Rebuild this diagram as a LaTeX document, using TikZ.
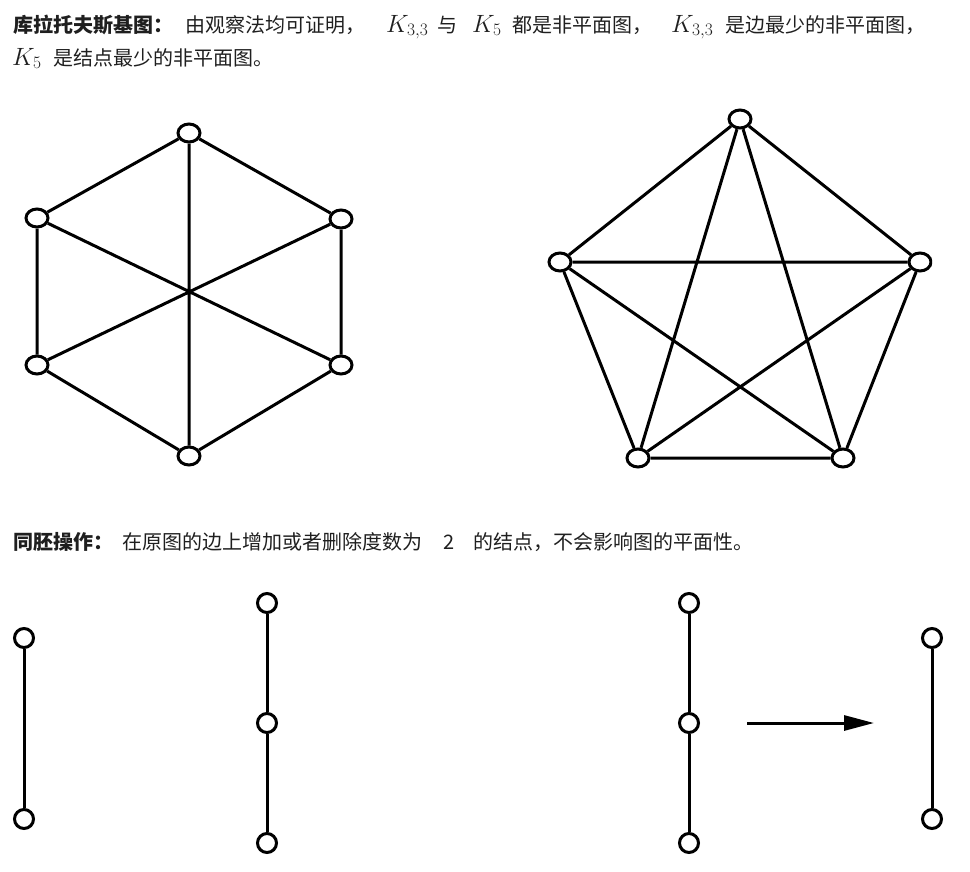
\RequirePackage{fix-cm}
\documentclass[tikz,border=0pt]{standalone}
\usepackage[no-math]{fontspec}
\setmainfont{Noto Sans CJK SC}
\usetikzlibrary{arrows.meta,shapes.geometric}
\begin{document}
\begin{tikzpicture}[x=1pt,y=-1pt,
  vtx/.style={ellipse, draw, line width=3pt, fill=white, minimum width=22pt, minimum height=18pt, inner sep=0pt},
  rvtx/.style={circle, draw, line width=3pt, fill=white, minimum size=19pt, inner sep=0pt},
  edge/.style={line width=3pt},
  txt/.style={anchor=base west, inner sep=0pt, font=\fontsize{20}{24}\selectfont, text=black!88},
  btxt/.style={anchor=base west, inner sep=0pt, font=\fontsize{20}{24}\selectfont\bfseries, text=black!88},
  mth/.style={anchor=base west, inner sep=0pt, font=\fontsize{25}{30}\selectfont, text=black!88}]
\useasboundingbox (0,0) rectangle (970,871);

% ---- text line 1 and 2
\node[btxt] (t1) at (13,32) {库拉托夫斯基图：};
\node[txt] (t2) at (185,32) {由观察法均可证明，};
\node[mth] (m1) at (386,32) {$K_{3,3}$};
\node[txt] (t3) at (437,32) {与};
\node[mth] (m2) at (472,32) {$K_5$};
\node[txt] (t4) at (512,32) {都是非平面图，};
\node[mth] (m3) at (671,32) {$K_{3,3}$};
\node[txt] (t5) at (725,32) {是边最少的非平面图，};
\node[mth] (m4) at (12,65) {$K_5$};
\node[txt] (t6) at (53,65) {是结点最少的非平面图。};

% ---- K33
\begin{scope}
\node[vtx] (a1) at (189,133) {};
\node[vtx] (a2) at (341,219) {};
\node[vtx] (a3) at (341,365) {};
\node[vtx] (a4) at (189,456) {};
\node[vtx] (a5) at (37,365) {};
\node[vtx] (a6) at (37,218) {};
\draw[edge] (a1) -- (a2) (a2) -- (a3) (a3) -- (a4) (a4) -- (a5) (a5) -- (a6) (a6) -- (a1);
\draw[edge] (a1) -- (a4) (a2) -- (a5) (a3) -- (a6);
\end{scope}

% ---- K5
\begin{scope}
\clip (500,90) rectangle (932,490);
\node[vtx] (b1) at (740,119) {};
\node[vtx] (b2) at (920,262) {};
\node[vtx] (b3) at (843,458) {};
\node[vtx] (b4) at (638,458) {};
\node[vtx] (b5) at (560,262) {};
\draw[edge] (b1) -- (b2) (b1) -- (b3) (b1) -- (b4) (b1) -- (b5)
            (b2) -- (b3) (b2) -- (b4) (b2) -- (b5)
            (b3) -- (b4) (b3) -- (b5)
            (b4) -- (b5);
\end{scope}

% ---- text line 3
\node[btxt] (t7) at (13,549) {同胚操作：};
\node[txt] (t8) at (122,549) {在原图的边上增加或者删除度数为};
\node[txt] (t9) at (443,549) {2};
\node[txt] (t10) at (473,549) {的结点，不会影响图的平面性。};

% ---- bottom graphs
\begin{scope}
\clip (0,580) rectangle (943,871);
\node[rvtx] (c1) at (24,638) {};
\node[rvtx] (c2) at (24,819) {};
\draw[edge] (c1) -- (c2);

\node[rvtx] (d1) at (267,603) {};
\node[rvtx] (d2) at (267,723) {};
\node[rvtx] (d3) at (267,843) {};
\draw[edge] (d1) -- (d2) (d2) -- (d3);

\node[rvtx] (e1) at (689,603) {};
\node[rvtx] (e2) at (689,723) {};
\node[rvtx] (e3) at (689,843) {};
\draw[edge] (e1) -- (e2) (e2) -- (e3);

\coordinate (ar1) at (747,723);
\coordinate (ar2) at (874,723);
\draw[line width=3pt, -{Triangle[length=30pt,width=15pt]}] (ar1) -- (ar2);

\node[rvtx] (f1) at (932,638) {};
\node[rvtx] (f2) at (932,819) {};
\draw[edge] (f1) -- (f2);
\end{scope}
\end{tikzpicture}
\end{document}
